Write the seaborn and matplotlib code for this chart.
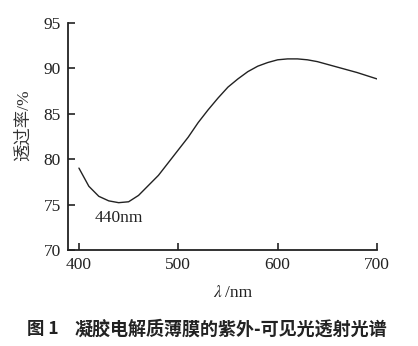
import matplotlib
matplotlib.use("Agg")
import matplotlib.pyplot as plt
import seaborn as sns
import pandas as pd

# Transmittance spectrum of the gel electrolyte film
wavelength_nm = [400, 410, 420, 430, 440, 450, 460, 470, 480, 490, 500, 510, 520,
                 530, 540, 550, 560, 570, 580, 590, 600, 610, 620, 630, 640, 660,
                 680, 700]
transmittance = [79.0, 77.0, 75.9, 75.4, 75.2, 75.3, 76.0, 77.1, 78.2, 79.6, 81.0,
                 82.4, 84.0, 85.4, 86.7, 87.9, 88.8, 89.6, 90.2, 90.6, 90.9, 91.0,
                 91.0, 90.9, 90.7, 90.1, 89.5, 88.8]
x_ticks = [400, 500, 600, 700]
y_ticks = [70, 75, 80, 85, 90, 95]

minimum_label = "440nm"
x_label = "/nm"
y_label = "透过率/%"
figure_no = "图 1"
caption = "凝胶电解质薄膜的紫外-可见光透射光谱"

sns.set_style("ticks")
plt.rcParams["font.family"] = ["Liberation Serif", "Noto Sans CJK SC"]
plt.rcParams["mathtext.fontset"] = "stix"

ink = "#222222"
serif = "Liberation Serif"
df = pd.DataFrame({"wavelength": wavelength_nm, "T": transmittance})

fig = plt.figure(figsize=(4.18, 3.46), dpi=100)
ax = fig.add_axes([68 / 418, 1 - 250 / 346, (377 - 68) / 418, (250 - 22.5) / 346])

sns.lineplot(data=df, x="wavelength", y="T", ax=ax, color=ink, linewidth=1.0)

ax.set_xlim(389, 700)
ax.set_ylim(70, 95)
ax.set_xticks(x_ticks)
ax.set_yticks(y_ticks)
ax.set_xticklabels([str(v) for v in x_ticks], family=serif, fontsize=12.5)
ax.set_yticklabels([str(v) for v in y_ticks], family=serif, fontsize=12.5)
ax.tick_params(direction="in", length=5, width=1.2, colors=ink, pad=5)
for side in ("top", "right"):
    ax.spines[side].set_visible(False)
for side in ("left", "bottom"):
    ax.spines[side].set_linewidth(1.3)
    ax.spines[side].set_color(ink)
ax.set_xlabel("")
ax.set_ylabel("")

ax.text(440, 73.5, minimum_label, ha="center", va="center", fontsize=12.5,
        color=ink, family=serif)

# axis titles
fig.text(213 / 418, 1 - 293 / 346, r"$\mathit{\lambda}$", ha="left",
         va="center", fontsize=12.5, color=ink)
fig.text(225 / 418, 1 - 293 / 346, x_label, ha="left", va="center",
         fontsize=12.5, color=ink, family=serif)
fig.text(24 / 418, 1 - 125 / 346, y_label, rotation=90, ha="center",
         va="center", fontsize=12.5, color="#333333")

# figure caption
fig.text(27 / 418, 1 - 329 / 346, figure_no, ha="left", va="center",
         fontsize=12.5, fontweight="bold", color=ink,
         family=["Noto Sans CJK SC"])
fig.text(75 / 418, 1 - 329 / 346, caption, ha="left", va="center",
         fontsize=13, fontweight="bold", color=ink,
         family=["Noto Sans CJK SC"])

fig.savefig("out.png", dpi=100, facecolor="white")
